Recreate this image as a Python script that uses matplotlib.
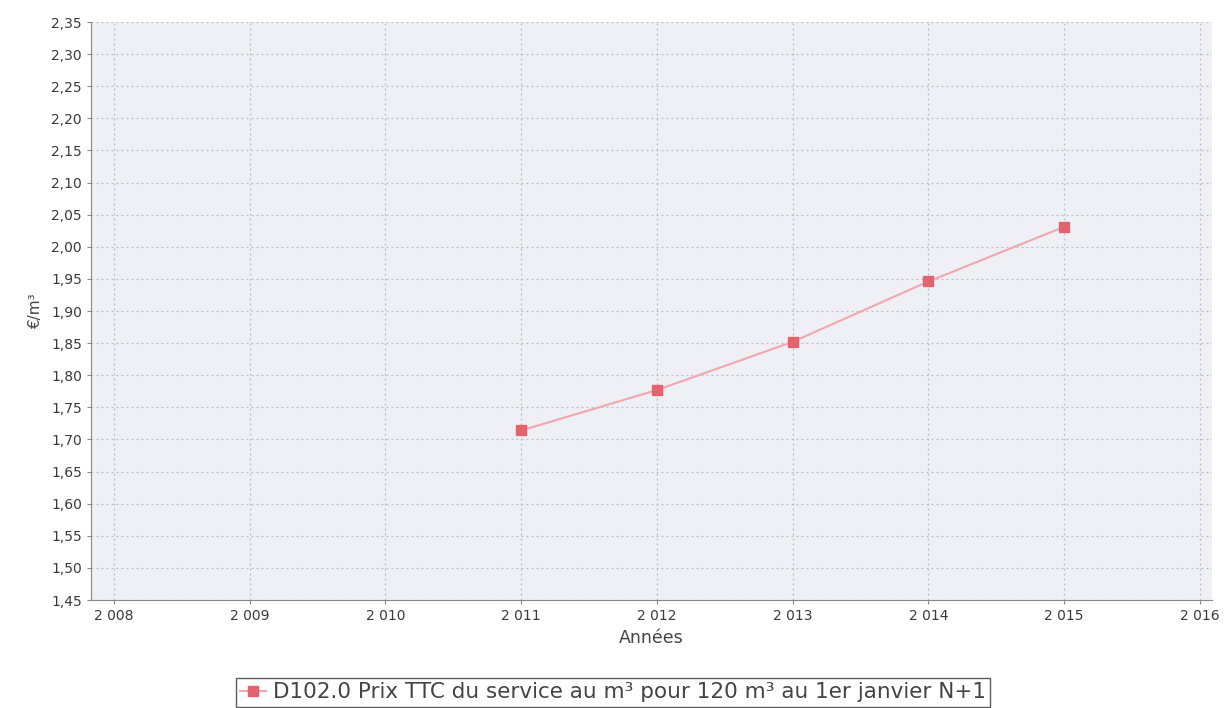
import matplotlib
matplotlib.use("Agg")
import matplotlib.pyplot as plt
from matplotlib.ticker import FuncFormatter, MultipleLocator

years = [2011, 2012, 2013, 2014, 2015]
prix = [1.714, 1.777, 1.852, 1.946, 2.031]
label = "D102.0 Prix TTC du service au m³ pour 120 m³ au 1er janvier N+1"

fig = plt.figure(figsize=(12.26, 7.08), dpi=100)
ax = fig.add_axes([0.0742, 0.1525, 0.9144, 0.8164])
ax.set_facecolor("#eef0f6")

ax.plot(years, prix, color="#f2a7ae", lw=1.5, marker="s", markersize=7,
        markerfacecolor="#e3646f", markeredgecolor="#e3646f", label=label)

ax.set_xlim(2007.83, 2016.09)
ax.set_ylim(1.45, 2.35)
ax.xaxis.set_major_locator(MultipleLocator(1))
ax.yaxis.set_major_locator(MultipleLocator(0.05))
ax.xaxis.set_major_formatter(FuncFormatter(lambda v, p: "%d %03d" % (int(v) // 1000, int(v) % 1000)))
ax.yaxis.set_major_formatter(FuncFormatter(lambda v, p: ("%.2f" % v).replace(".", ",")))

ax.grid(True, color="#b8bcc4", linestyle=(0, (1.5, 2.5)), lw=0.9)
for s in ["top", "right"]:
    ax.spines[s].set_visible(False)
for s in ["left", "bottom"]:
    ax.spines[s].set_color("#888888")
ax.tick_params(colors="#888888", labelcolor="#3a3a3a", labelsize=10, length=3)

ax.set_xlabel("Années", fontsize=12.5, color="#444444", labelpad=4)
ax.set_ylabel("€/m³", fontsize=11, color="#444444", labelpad=6)

fig.legend(loc="center", bbox_to_anchor=(0.5, 0.022), frameon=True, fancybox=False,
           edgecolor="#333333", fontsize=15.5, handlelength=1.2, handletextpad=0.3,
           borderpad=0.2, labelcolor="#444444")

fig.savefig("out.png", dpi=100)
